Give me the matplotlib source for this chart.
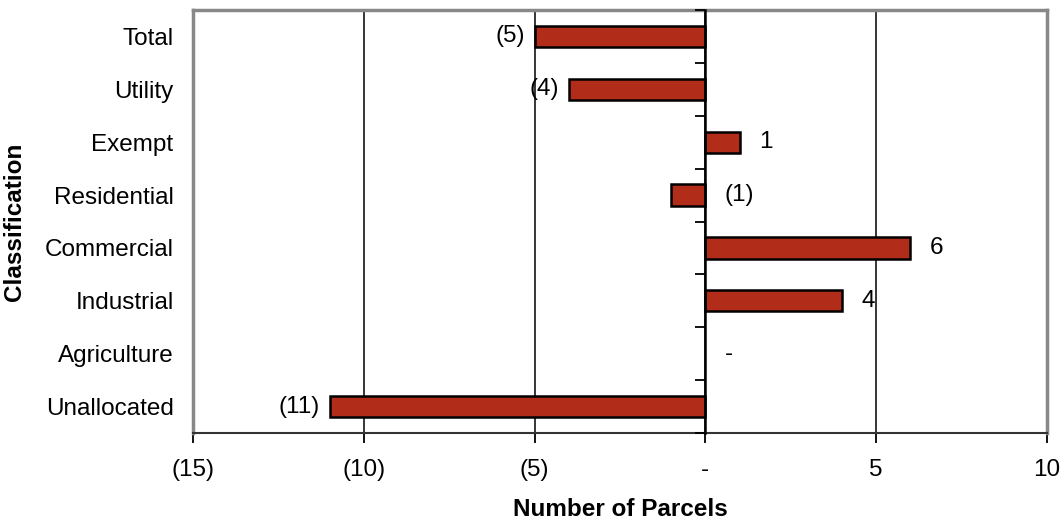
import matplotlib
matplotlib.use("Agg")
import matplotlib.pyplot as plt
from matplotlib.ticker import FuncFormatter, FixedLocator

plt.rcParams["font.family"] = ["Liberation Sans", "DejaVu Sans"]

# data (top to bottom as shown)
categories = ["Total", "Utility", "Exempt", "Residential",
              "Commercial", "Industrial", "Agriculture", "Unallocated"]
values = [-5, -4, 1, -1, 6, 4, 0, -11]
xticks = [-15, -10, -5, 0, 5, 10]

BAR = "#B22C1A"
FS = 17.5


def acct(v, pos=None):
    # accounting style: (5), -, 5
    if v < 0:
        return f"({abs(v):g})"
    if v == 0:
        return "-"
    return f"{v:g}"


fig = plt.figure(figsize=(10.64, 5.25), dpi=100)
ax = fig.add_axes([193/1064, 1-433/525, (1047-193)/1064, (433-10)/525])

ypos = list(range(len(categories)))[::-1]
ax.barh(ypos, values, height=0.4, color=BAR, edgecolor="black",
        linewidth=[1.8 if v else 0 for v in values], zorder=3)

ax.set_xlim(-15, 10)
ax.set_ylim(-0.5, len(categories) - 0.5)
ax.set_xticks(xticks)
ax.xaxis.set_major_formatter(FuncFormatter(acct))
ax.set_yticks(ypos)
ax.set_yticklabels(categories)
ax.tick_params(axis="y", length=0, pad=14, labelsize=FS)
ax.tick_params(axis="x", length=7, width=1.3, pad=12, labelsize=FS, direction="out")

ax.grid(axis="x", color="black", linewidth=1.1, zorder=1)
ax.set_axisbelow(True)

for s in ["top", "left", "right"]:
    ax.spines[s].set_color("#888888")
    ax.spines[s].set_linewidth(2.5)
ax.spines["bottom"].set_color("#333333")
ax.spines["bottom"].set_linewidth(1.5)

# zero axis with category-boundary ticks pointing left
zx = (0 - (-15)) / 25
sec = ax.secondary_yaxis(zx)
sec.yaxis.set_ticks_position("left")
sec.yaxis.set_major_locator(FixedLocator([i - 0.5 for i in range(len(categories) + 1)]))
sec.yaxis.set_major_formatter(FuncFormatter(lambda v, p: ""))
sec.tick_params(axis="y", which="both", left=True, right=False,
                length=7, width=1.3, direction="out")
for s in sec.spines.values():
    s.set_linewidth(1.8)
    s.set_color("black")
sec.set_zorder(4)

# data labels
for y, v in zip(ypos, values):
    if v < -1:
        ax.annotate(acct(v), (v, y), xytext=(-7, 0), textcoords="offset points",
                    ha="right", va="center", fontsize=FS)
    else:
        ax.annotate(acct(v), (max(v, 0), y), xytext=(14, 0), textcoords="offset points",
                    ha="left", va="center", fontsize=FS)

fig.text(620/1064, 1-510/525, "Number of Parcels", ha="center", va="center",
         fontsize=FS, fontweight="bold")
fig.text(15/1064, 1-222/525, "Classification", ha="center", va="center",
         rotation=90, fontsize=FS, fontweight="bold")

fig.savefig("out.png", dpi=100)
